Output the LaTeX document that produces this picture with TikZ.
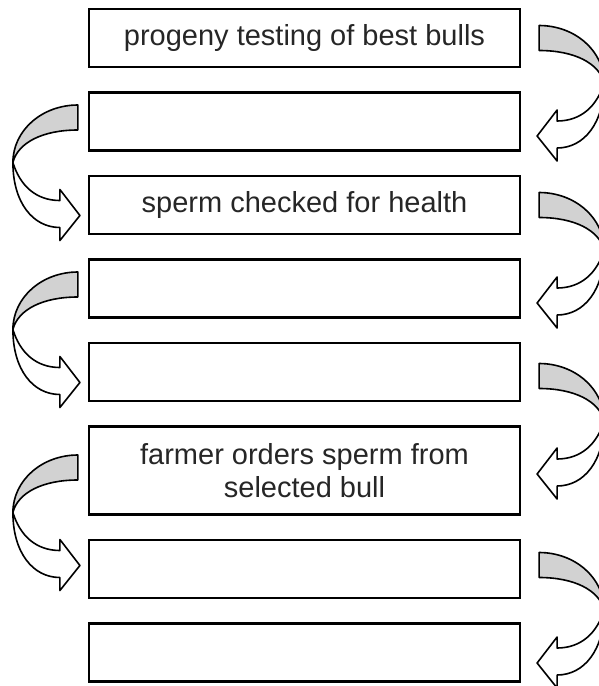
\documentclass[tikz,border=0pt]{standalone}
\usepackage{fontspec}
\setmainfont{Liberation Sans}
\usetikzlibrary{positioning,calc}

\begin{document}
\begin{tikzpicture}[x=1pt,y=-1pt,
    stage/.style={draw, line width=2.2pt, minimum width=431pt, minimum height=58pt,
      inner sep=0pt, align=center, text=black!85, font=\fontsize{29}{33}\selectfont},
    tallstage/.style={stage, minimum height=88pt},
    ribbon/.style={draw, line width=1.6pt, line join=round},
    twist/.pic={
      % back of the ribbon
      \path[ribbon, fill=gray!35] (0,-12.5) .. controls (-36,-12.5) and (-65,13) .. (-65,45)
        .. controls (-60,25) and (-35,12.5) .. (0,12.5) -- cycle;
      % front of the ribbon with its head
      \path[ribbon, fill=white] (-65,45) .. controls (-65,85) and (-45,110) .. (-18,110)
        -- (-18,123) -- (2,98) -- (-18,72) -- (-18,83)
        .. controls (-42,83) and (-58,68) .. (-65,45) -- cycle;
    },
    node distance=23.3pt]
  \useasboundingbox (0,0) rectangle (598,686);

  % boxes
  \node[stage] (b1) at (304.5,38) {progeny testing of best bulls};
  \node[stage, below=of b1] (b2) {};
  \node[stage, below=of b2] (b3) {sperm checked for health};
  \node[stage, below=of b3] (b4) {};
  \node[stage, below=of b4] (b5) {};
  \node[tallstage, below=of b5] (b6) {farmer orders sperm from\\selected bull};
  \node[stage, below=of b6] (b7) {};
  \node[stage, below=of b7] (b8) {};

  % right side
  \pic[xscale=-1] at ($(b1.east)+(18,0)$) {twist};
  \pic[xscale=-1] at ($(b3.east)+(18,0)$) {twist};
  \pic[xscale=-1] at ($(b5.east)+(18,4)$) {twist};
  \pic[xscale=-1] at ($(b7.east)+(18,-4)$) {twist};

  % left side
  \pic at ($(b2.west)+(-10,-4)$) {twist};
  \pic at ($(b4.west)+(-10,-4)$) {twist};
  \pic at ($(b6.west)+(-10,-3)$) {twist};
\end{tikzpicture}
\end{document}
